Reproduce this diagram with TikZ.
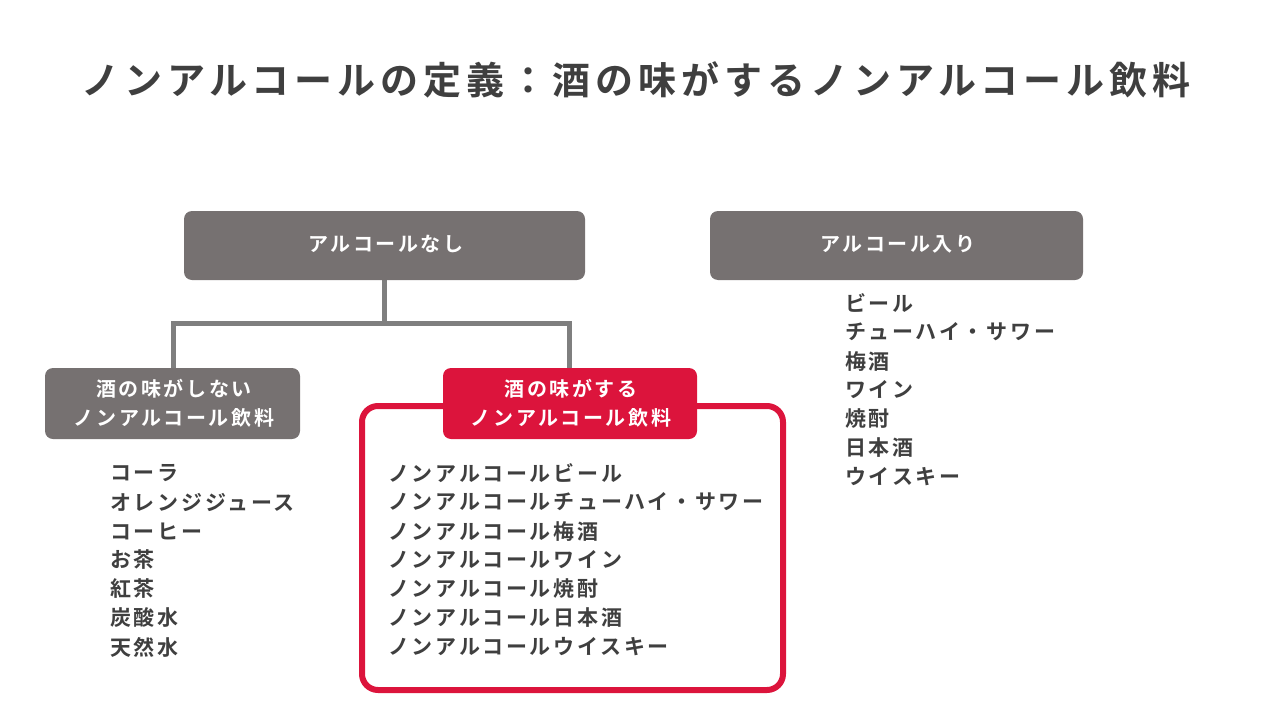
\documentclass[tikz,border=0pt]{standalone}
\usepackage{fontspec}
\setmainfont{Noto Sans CJK JP}[BoldFont={Noto Sans CJK JP Bold},LetterSpace=13]
\definecolor{txt}{HTML}{3F3F3F}
\definecolor{gbox}{HTML}{767171}
\definecolor{gline}{HTML}{7F7F7F}
\definecolor{rd}{HTML}{DC143C}
\begin{document}
\begin{tikzpicture}[x=1pt,y=-1pt,
 box/.style={fill=#1,rounded corners=8pt},
 btxt/.style={text=white,font=\bfseries\fontsize{20}{29}\selectfont,align=center},
 item/.style={anchor=west,text=txt,font=\bfseries\fontsize{21}{25}\selectfont,inner sep=0pt}]
\useasboundingbox (0,0) rectangle (1280,720);
\node[text=txt,font=\bfseries\fontsize{38}{44}\selectfont] (title) at (636,80) {ノンアルコールの定義：酒の味がするノンアルコール飲料};
\draw[gline,line width=5pt] (384,280) -- (384,323) coordinate (m) -- (173,323) -- (173,370);
\draw[gline,line width=5pt] (m) -- (569,323) -- (569,370);
\path[box=gbox] (184,211) rectangle (585,280);
\node[btxt] (a) at (386,244) {アルコールなし};
\path[box=gbox] (710,211) rectangle (1083,280);
\node[btxt] (b) at (898,244) {アルコール入り};
\draw[rd,line width=6pt,rounded corners=16pt] (362,406) rectangle (783,690);
\path[box=gbox] (45,368) rectangle (300,439);
\node[btxt] (c) at (174,403.5) {酒の味がしない\\ノンアルコール飲料};
\path[box=rd] (443,368) rectangle (697,439);
\node[btxt] (d) at (571,403.5) {酒の味がする\\ノンアルコール飲料};
\foreach \t [count=\i] in {コーラ,オレンジジュース,コーヒー,お茶,紅茶,炭酸水,天然水}
  \node[item] (l\i) at (110,{473+29*(\i-1)}) {\t};
\foreach \t [count=\i] in {ノンアルコールビール,ノンアルコールチューハイ・サワー,ノンアルコール梅酒,ノンアルコールワイン,ノンアルコール焼酎,ノンアルコール日本酒,ノンアルコールウイスキー}
  \node[item] (n\i) at (388,{473+29*(\i-1)}) {\t};
\foreach \t [count=\i] in {ビール,チューハイ・サワー,梅酒,ワイン,焼酎,日本酒,ウイスキー}
  \node[item] (r\i) at (845,{303+29*(\i-1)}) {\t};
\end{tikzpicture}
\end{document}
